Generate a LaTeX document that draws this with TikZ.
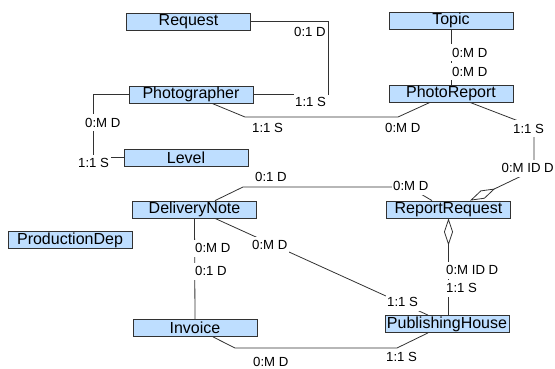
\documentclass[tikz,border=0pt]{standalone}
\usepackage{fontspec}
\setmainfont{Liberation Sans}
\usepackage{tikz}
\usetikzlibrary{positioning}
\usetikzlibrary{backgrounds}
\usetikzlibrary{arrows.meta}
\definecolor{entityblue}{RGB}{190,222,255}
\definecolor{edgegray}{RGB}{50,50,50}
\tikzset{
	entity/.style={
		draw=edgegray,
		fill=entityblue,
		line width=0.8pt,
		minimum width=124pt,
		minimum height=17pt,
		inner sep=0pt,
		font=\fontsize{16}{16}\selectfont
	},
	card/.style={
		fill=white,
		anchor=west,
		inner xsep=1.5pt,
		inner ysep=4pt,
		text height=9pt,
		text depth=0pt,
		font=\fontsize{13.2}{14}\selectfont
	},
	rel/.style={
		draw=edgegray,
		line width=0.8pt
	},
	agg/.style={
		rel,
		{Diamond[open,length=#1,width=9pt]}-
	},
	er/.style={
		x=1pt,
		y=-1pt
	}
}

\begin{document}
\begin{tikzpicture} [er]
	\useasboundingbox (0,0) rectangle (555,369);

	\node[entity] (request) at (188.5,21.5) {Request};
	\node[entity] (topic) at (451,20.5) {Topic};
	\node[entity] (photographer) at (191,94.5) {Photographer};
	\node[entity] (photoreport) at (451,93.5) {PhotoReport};
	\node[entity] (level) at (186,157.5) {Level};
	\node[entity] (deliverynote) at (194.5,209.5) {DeliveryNote};
	\node[entity] (productiondep) at (70,240) {ProductionDep};
	\node[entity] (reportrequest) at (448.5,209.5) {ReportRequest};
	\node[entity] (invoice) at (195,328) {Invoice};
	\node[entity] (publishinghouse) at (447,324) {PublishingHouse};
	\coordinate (hook) at (328,0);

	\begin{scope}[on background layer]
		\draw[rel] (request.east) -- (request.east -| hook) -- (photographer.east -| hook) -- (photographer.east);
		\draw[rel] ([xshift=21]photographer.south) -- (245,117) -- (398,117) -- ([xshift=-21]photoreport.south);
		\draw[rel] (photographer.west) -| (93,157.5) -- (level.west);
		\draw[rel] (topic.south) -- (photoreport.north);
		\draw[agg=28pt] ([xshift=21.5]reportrequest.north) -- (534,170) -- (534,127) -- ([xshift=19]photoreport.south);
		\draw[rel] ([xshift=20.5]deliverynote.north) -- (243,187) -- (409,187) -- ([xshift=-16.5]reportrequest.north);
		\draw[agg=27pt] (reportrequest.south) -- (reportrequest.south |- publishinghouse.north);
		\draw[rel] ([xshift=20.5]deliverynote.south) -- ([xshift=-19]publishinghouse.north);
		\draw[rel] (deliverynote.south) -- (invoice.north);
		\draw[rel] ([xshift=18]invoice.south) -- (235,348) -- (397,348) -- ([xshift=-19]publishinghouse.south);
	\end{scope}

	\node[card] (rq1) at (292.5,32) {0:1 D};
	\node[card] (rq2) at (293.5,102) {1:1 S};
	\node[card] (pg1) at (250.5,128) {1:1 S};
	\node[card] (pg2) at (383.5,128) {0:M D};
	\node[card] (tp1) at (450.5,53) {0:M D};
	\node[card] (tp2) at (450.5,72) {0:M D};
	\node[card] (pr1) at (511.5,129) {1:1 S};
	\node[card] (pr2) at (500,168) {0:M ID D};
	\node[card] (lv1) at (83.5,123) {0:M D};
	\node[card] (lv2) at (76.5,163) {1:1 S};
	\node[card] (dn1) at (253.5,177) {0:1 D};
	\node[card] (dn2) at (391.5,186) {0:M D};
	\node[card] (rr1) at (444.5,270) {0:M ID D};
	\node[card] (rr2) at (444.5,288) {1:1 S};
	\node[card] (dp1) at (250.5,245) {0:M D};
	\node[card] (dp2) at (385.5,302) {1:1 S};
	\node[card] (di1) at (193.5,248) {0:M D};
	\node[card] (di2) at (193.5,271) {0:1 D};
	\node[card] (ip1) at (251.5,362) {0:M D};
	\node[card] (ip2) at (384.5,357) {1:1 S};
\end{tikzpicture}
\end{document}
